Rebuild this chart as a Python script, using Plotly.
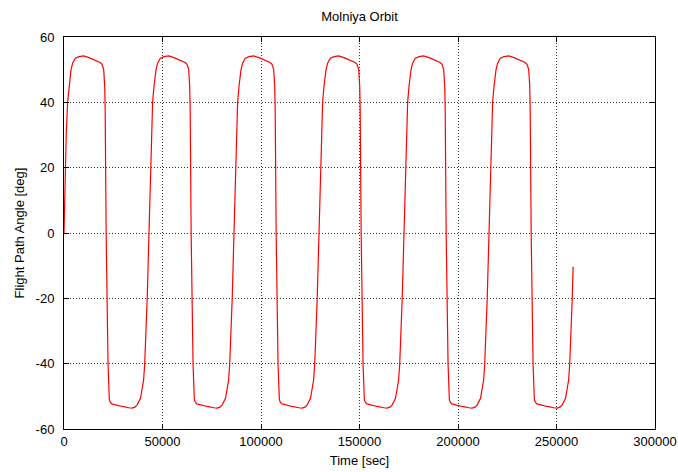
import plotly.graph_objects as go

# Time [sec] and flight path angle [deg]
time_sec = [
    0, 300, 660, 1120, 1830, 2540, 3560, 4370, 5740, 7620, 9960, 12700, 16260, 18300, 19300, 19900, 20150, 20650, 20900, 21390, 21840, 22350, 23010, 23500, 24290, 26500, 29500, 33000, 34500, 36000, 37160, 38830, 39700, 40410, 40970, 41680, 42235, 42690,
    43150, 43450, 43810, 44270, 44980, 45690, 46710, 47520, 48890, 50770, 53110, 55850, 59410, 61450, 62450, 63050, 63300, 63800, 64050, 64540, 64990, 65500, 66160, 66650, 67440, 69650, 72650, 76150, 77650, 79150, 80310, 81980, 82850, 83560, 84120, 84830, 85385, 85840,
    86300, 86600, 86960, 87420, 88130, 88840, 89860, 90670, 92040, 93920, 96260, 99000, 102560, 104600, 105600, 106200, 106450, 106950, 107200, 107690, 108140, 108650, 109310, 109800, 110590, 112800, 115800, 119300, 120800, 122300, 123460, 125130, 126000, 126710, 127270, 127980, 128535, 128990,
    129450, 129750, 130110, 130570, 131280, 131990, 133010, 133820, 135190, 137070, 139410, 142150, 145710, 147750, 148750, 149350, 149600, 150100, 150350, 150840, 151290, 151800, 152460, 152950, 153740, 155950, 158950, 162450, 163950, 165450, 166610, 168280, 169150, 169860, 170420, 171130, 171685, 172140,
    172600, 172900, 173260, 173720, 174430, 175140, 176160, 176970, 178340, 180220, 182560, 185300, 188860, 190900, 191900, 192500, 192750, 193250, 193500, 193990, 194440, 194950, 195610, 196100, 196890, 199100, 202100, 205600, 207100, 208600, 209760, 211430, 212300, 213010, 213570, 214280, 214835, 215290,
    215750, 216050, 216410, 216870, 217580, 218290, 219310, 220120, 221490, 223370, 225710, 228450, 232010, 234050, 235050, 235650, 235900, 236400, 236650, 237140, 237590, 238100, 238760, 239250, 240040, 242250, 245250, 248750, 250250, 251750, 252910, 254580, 255450, 256160, 256720, 257430, 257985, 258440,
]
angle_deg = [
    0, 10, 20, 30, 40, 45, 50, 52, 53.5, 54.0, 54.2, 53.7, 52.8, 52.2, 51.6, 50.8, 50, 45, 38, 0, -20, -40, -51, -51.8, -52.3, -52.7, -53.1, -53.5, -53.6, -53.3, -52.6, -50.6, -48, -45, -40, -30, -20, -10,
    0, 10, 20, 30, 40, 45, 50, 52, 53.5, 54.0, 54.2, 53.7, 52.8, 52.2, 51.6, 50.8, 50, 45, 38, 0, -20, -40, -51, -51.8, -52.3, -52.7, -53.1, -53.5, -53.6, -53.3, -52.6, -50.6, -48, -45, -40, -30, -20, -10,
    0, 10, 20, 30, 40, 45, 50, 52, 53.5, 54.0, 54.2, 53.7, 52.8, 52.2, 51.6, 50.8, 50, 45, 38, 0, -20, -40, -51, -51.8, -52.3, -52.7, -53.1, -53.5, -53.6, -53.3, -52.6, -50.6, -48, -45, -40, -30, -20, -10,
    0, 10, 20, 30, 40, 45, 50, 52, 53.5, 54.0, 54.2, 53.7, 52.8, 52.2, 51.6, 50.8, 50, 45, 38, 0, -20, -40, -51, -51.8, -52.3, -52.7, -53.1, -53.5, -53.6, -53.3, -52.6, -50.6, -48, -45, -40, -30, -20, -10,
    0, 10, 20, 30, 40, 45, 50, 52, 53.5, 54.0, 54.2, 53.7, 52.8, 52.2, 51.6, 50.8, 50, 45, 38, 0, -20, -40, -51, -51.8, -52.3, -52.7, -53.1, -53.5, -53.6, -53.3, -52.6, -50.6, -48, -45, -40, -30, -20, -10,
    0, 10, 20, 30, 40, 45, 50, 52, 53.5, 54.0, 54.2, 53.7, 52.8, 52.2, 51.6, 50.8, 50, 45, 38, 0, -20, -40, -51, -51.8, -52.3, -52.7, -53.1, -53.5, -53.6, -53.3, -52.6, -50.6, -48, -45, -40, -30, -20, -10.3,
]

x_tickvals = [0, 50000, 100000, 150000, 200000, 250000, 300000]
x_ticktext = ["0", "50000", "100000", "150000", "200000", "250000", "300000"]
y_tickvals = [-60, -40, -20, 0, 20, 40, 60]
y_ticktext = ["-60", "-40", "-20", "0", "20", "40", "60"]

FONT = "Liberation Sans, Arial, sans-serif"

fig = go.Figure()
fig.add_trace(go.Scatter(x=time_sec, y=angle_deg, mode="lines",
                         line=dict(color="#ff0000", width=1.2), showlegend=False))

axis_common = dict(
    showline=True, linecolor="black", linewidth=1, mirror="ticks",
    ticks="inside", ticklen=5, tickcolor="black", tickwidth=1,
    showgrid=True, gridcolor="#333333", griddash="1px,2px", gridwidth=1,
    zeroline=False, automargin=False,
    tickfont=dict(family=FONT, size=13, color="black"),
)

fig.update_layout(
    width=678, height=472,
    margin=dict(l=64, r=23, t=37, b=43),
    plot_bgcolor="white", paper_bgcolor="white",
    font=dict(family=FONT, size=13, color="black"),
    title=dict(text="Molniya Orbit", x=0.5, xref="paper", y=1 - 16 / 472, yref="container",
               xanchor="center", yanchor="middle", font=dict(family=FONT, size=13, color="black")),
    xaxis=dict(range=[0, 300000], tickvals=x_tickvals, ticktext=x_ticktext,
               title=dict(text="Time [sec]", standoff=8, font=dict(family=FONT, size=13)),
               **axis_common),
    yaxis=dict(range=[-60, 60], tickvals=y_tickvals, ticktext=y_ticktext,
               title=dict(text="Flight Path Angle [deg]", standoff=8, font=dict(family=FONT, size=13)),
               ticklabelstandoff=6,
               **axis_common),
)

fig.write_html("out.html")
